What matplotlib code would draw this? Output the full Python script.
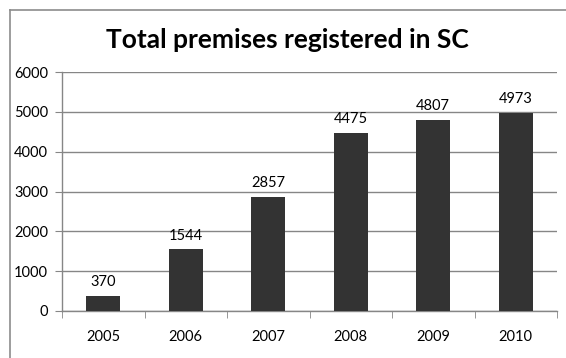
import matplotlib.pyplot as plt
from matplotlib.lines import Line2D

years = ["2005", "2006", "2007", "2008", "2009", "2010"]
premises = [370, 1544, 2857, 4475, 4807, 4973]
y_ticks = [0, 1000, 2000, 3000, 4000, 5000, 6000]

plt.rcParams['font.family'] = ['Lato', 'DejaVu Sans']

W, H = 566, 358
fig = plt.figure(figsize=(W / 100, H / 100), dpi=100)
ax = fig.add_axes([62 / W, 47 / H, (557 - 62) / W, (311 - 72) / H])

grid_col = "#868686"
x = list(range(len(years)))
ax.bar(x, premises, width=0.41, color="#333333", zorder=3)
for xi, v in zip(x, premises):
    ax.annotate(str(v), (xi, v), xytext=(0, 5), textcoords="offset points",
                ha="center", va="bottom", fontsize=10.5)

ax.set_xlim(-0.5, len(years) - 0.5)
ax.set_ylim(0, 6000)
ax.set_yticks(y_ticks)
ax.set_yticklabels([str(t) for t in y_ticks], fontsize=10.5)
ax.yaxis.grid(True, color=grid_col, linewidth=1, zorder=0)

ax.set_xticks(x)
ax.set_xticklabels(years, fontsize=10.5)
ax.set_xticks([i - 0.5 for i in range(len(years) + 1)], minor=True)
ax.tick_params(axis="x", which="major", length=0, pad=14)
ax.tick_params(axis="x", which="minor", length=5, color=grid_col, direction="out")
ax.tick_params(axis="y", length=5, color=grid_col, direction="out", pad=5)

for s in ["top", "right"]:
    ax.spines[s].set_visible(False)
for s in ["left", "bottom"]:
    ax.spines[s].set_color(grid_col)
    ax.spines[s].set_linewidth(1)

# chart border (cut off at right and bottom)
bx, by = 9.5 / W, 1 - 9.5 / H
fig.add_artist(Line2D([bx, bx], [by, 0], color="#8c8c8c", lw=1.2))
fig.add_artist(Line2D([bx, 1.0], [by, by], color="#8c8c8c", lw=1.2))

fig.text(287 / W, 1 - 40 / H, "Total premises registered in SC",
         ha="center", va="center", fontsize=19, fontweight="bold")

fig.savefig("out.png", dpi=100)
